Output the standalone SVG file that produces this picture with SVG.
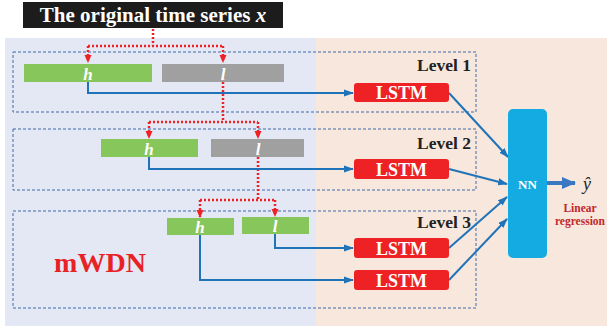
<svg xmlns="http://www.w3.org/2000/svg" width="607" height="331" viewBox="0 0 607 331">
<defs>
<style>
.lvl{fill:none;stroke:#3f6aa8;stroke-width:1;stroke-dasharray:3,2}
.red{fill:none;stroke:#ee2124;stroke-width:2.5;stroke-dasharray:2,2}
.blue{fill:none;stroke:#1f73b9;stroke-width:2}
.lstm rect{fill:#ee2124}
.lstm text{fill:#fff;font:bold 18px "Liberation Serif",serif;text-anchor:middle}
.lbl{fill:#222;font:bold 17.5px "Liberation Serif",serif;text-anchor:end}
.bar text{fill:#fff;font:bold italic 17px "Liberation Serif",serif;text-anchor:middle}
</style>
<marker id="ar" markerWidth="8" markerHeight="8" refX="7" refY="4" orient="auto" markerUnits="userSpaceOnUse"><path d="M0,0.5 L8,4 L0,7.5 Z" fill="#ee2124"/></marker>
<marker id="ab" markerWidth="10" markerHeight="8" refX="9" refY="4" orient="auto" markerUnits="userSpaceOnUse"><path d="M0,0.5 L10,4 L0,7.5 Z" fill="#1f73b9"/></marker>
<marker id="ab2" markerWidth="14" markerHeight="12" refX="13" refY="6" orient="auto" markerUnits="userSpaceOnUse"><path d="M0,0 L14,6 L0,12 Z" fill="#3a78c2"/></marker>
</defs>
<rect x="5" y="38" width="311" height="288" fill="#e4e8f4"/>
<rect x="316" y="38" width="291" height="288" fill="#f8e7dc"/>
<g id="title"><rect x="23" y="2" width="260" height="26" fill="#1c1c1c"/><text x="153" y="22" fill="#fff" font-family="Liberation Serif,serif" font-weight="bold" font-size="21" text-anchor="middle">The original time series <tspan font-style="italic">x</tspan></text></g>
<g id="level1"><rect class="lvl" x="13" y="52" width="463" height="60"/><text class="lbl" x="471" y="71">Level 1</text></g>
<g id="level2"><rect class="lvl" x="13" y="129" width="463" height="61"/><text class="lbl" x="471" y="149">Level 2</text></g>
<g id="level3"><rect class="lvl" x="13" y="211" width="463" height="97"/><text class="lbl" x="471" y="228">Level 3</text></g>
<g id="mwdn"><text x="100" y="272" fill="#e82127" font-family="Liberation Serif,serif" font-weight="bold" font-size="28" text-anchor="middle">mWDN</text></g>
<g id="connectors">
<path class="red" d="M153,29 V46 M88,46 H223 M88,46 V62" marker-end="url(#ar)"/>
<path class="red" d="M223,46 V62" marker-end="url(#ar)"/>
<path class="red" d="M223,82 V122 M149,122 H258 M149,122 V138" marker-end="url(#ar)"/>
<path class="red" d="M258,122 V138" marker-end="url(#ar)"/>
<path class="red" d="M258,157 V200 M200,200 H276 M200,200 V217" marker-end="url(#ar)"/>
<path class="red" d="M275,200 V216" marker-end="url(#ar)"/>
<path class="blue" d="M88,82 V93 H353" marker-end="url(#ab)"/>
<path class="blue" d="M149,157 V169 H353" marker-end="url(#ab)"/>
<path class="blue" d="M275,234 V248 H353" marker-end="url(#ab)"/>
<path class="blue" d="M200,235 V280 H353" marker-end="url(#ab)"/>
<path class="blue" d="M449,93 L508,157" marker-end="url(#ab)"/>
<path class="blue" d="M449,169 L507,184" marker-end="url(#ab)"/>
<path class="blue" d="M449,248 L507,197" marker-end="url(#ab)"/>
<path class="blue" d="M449,280 L507,219" marker-end="url(#ab)"/>
<path d="M547,183 H575" stroke="#3a78c2" stroke-width="4" fill="none" marker-end="url(#ab2)"/>
</g>
<g id="h1" class="bar"><rect x="24" y="64" width="128" height="18" fill="#86c65b"/><text x="88" y="80">h</text></g>
<g id="l1" class="bar"><rect x="162" y="64" width="122" height="18" fill="#a0a0a0"/><text x="223" y="80">l</text></g>
<g id="h2" class="bar"><rect x="101" y="139" width="97" height="18" fill="#86c65b"/><text x="149" y="155">h</text></g>
<g id="l2" class="bar"><rect x="211" y="139" width="93" height="18" fill="#a0a0a0"/><text x="258" y="155">l</text></g>
<g id="h3" class="bar"><rect x="167" y="218" width="67" height="17" fill="#86c65b"/><text x="200" y="233">h</text></g>
<g id="l3" class="bar"><rect x="242" y="217" width="67" height="17" fill="#86c65b"/><text x="275" y="232">l</text></g>
<g id="lstm1" class="lstm"><rect x="354" y="83" width="95" height="19" rx="3"/><text x="401.5" y="99">LSTM</text></g>
<g id="lstm2" class="lstm"><rect x="354" y="159" width="95" height="20" rx="3"/><text x="401.5" y="175.5">LSTM</text></g>
<g id="lstm3a" class="lstm"><rect x="354" y="238" width="95" height="20" rx="3"/><text x="401.5" y="254.5">LSTM</text></g>
<g id="lstm3b" class="lstm"><rect x="354" y="270" width="95" height="20" rx="3"/><text x="401.5" y="286.5">LSTM</text></g>
<g id="nn"><rect x="508" y="109" width="39" height="149" rx="5" fill="#14abe2"/><text x="527.5" y="189" fill="#fff" font-family="Liberation Serif,serif" font-weight="bold" font-size="13" text-anchor="middle">NN</text></g>
<g id="output"><text x="587" y="190" fill="#222" font-family="Liberation Serif,serif" font-style="italic" font-size="18" text-anchor="middle">ŷ</text>
<text x="580" y="212" fill="#c0282d" font-family="Liberation Serif,serif" font-weight="bold" font-size="11.5" text-anchor="middle">Linear</text>
<text x="580" y="225" fill="#c0282d" font-family="Liberation Serif,serif" font-weight="bold" font-size="11.5" text-anchor="middle">regression</text></g>
</svg>
